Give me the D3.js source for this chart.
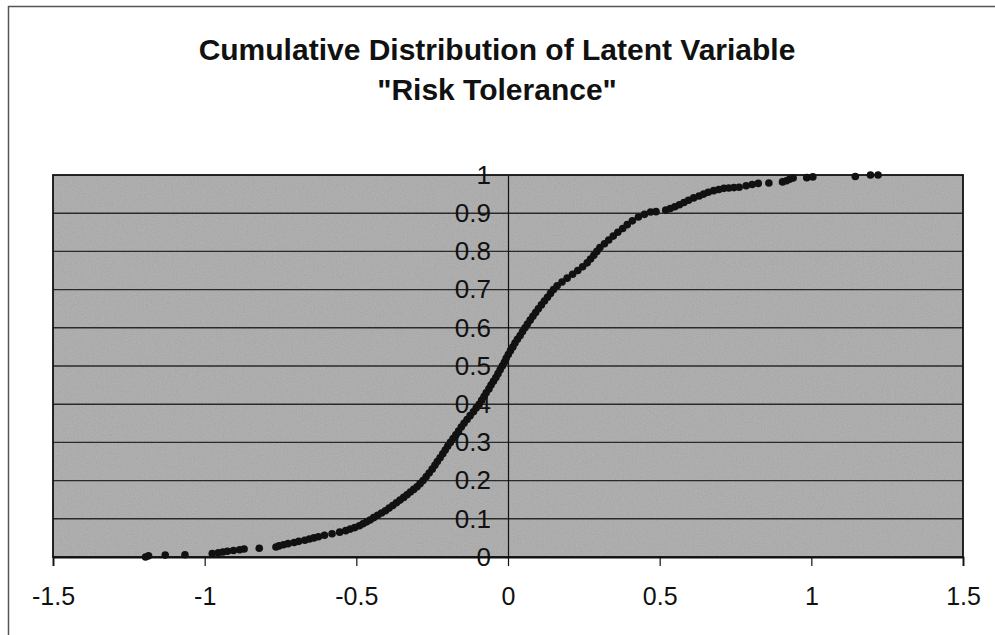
<!DOCTYPE html>
<html>
<head>
<meta charset="utf-8">
<script src="https://cdn.jsdelivr.net/npm/d3@7"></script>
<style>
  html, body { margin: 0; padding: 0; background: #fff; }
  svg { display: block; }
</style>
</head>
<body>
<svg id="chart" width="995" height="635"></svg>
<script>
// ---- Data ----
const titleLines = ["Cumulative Distribution of Latent Variable", "\"Risk Tolerance\""];
const xTicks = [-1.5, -1, -0.5, 0, 0.5, 1, 1.5];
const yTicks = [0, 0.1, 0.2, 0.3, 0.4, 0.5, 0.6, 0.7, 0.8, 0.9, 1];

const riskX = [
  -1.195,-1.185,-1.130,-1.065,-0.975,-0.955,-0.940,-0.925,-0.905,-0.885,-0.870,-0.820,
  -0.765,-0.755,-0.740,-0.725,-0.705,-0.690,-0.670,-0.655,-0.640,-0.625,-0.605,-0.580,
  -0.555,-0.535,-0.520,-0.505,-0.490,-0.478,-0.466,-0.455,-0.443,-0.430,-0.417,-0.404,
  -0.392,-0.380,-0.368,-0.356,-0.344,-0.333,-0.322,-0.311,-0.300,-0.290,-0.280,-0.270,
  -0.260,-0.250,-0.241,-0.233,-0.224,-0.215,-0.207,-0.199,-0.190,-0.181,-0.172,-0.163,
  -0.154,-0.145,-0.135,-0.125,-0.114,-0.105,-0.095,-0.087,-0.079,-0.072,-0.063,-0.056,
  -0.048,-0.040,-0.033,-0.026,-0.019,-0.012,-0.006,0.001,0.008,0.016,0.023,0.031,
  0.040,0.048,0.056,0.064,0.073,0.082,0.091,0.100,0.110,0.120,0.130,0.140,
  0.150,0.162,0.178,0.195,0.213,0.230,0.246,0.261,0.272,0.283,0.293,0.303,
  0.318,0.332,0.347,0.362,0.378,0.393,0.410,0.430,0.450,0.470,0.488,
  0.520,0.535,0.550,0.565,0.580,0.595,0.612,0.630,0.645,0.660,0.678,0.695,
  0.712,0.728,0.745,0.762,0.785,0.805,0.825,0.860,0.905,0.918,0.928,0.940,
  0.985,1.005,1.145,1.195,1.220
];
const riskCdf = [
  0.000,0.003,0.005,0.006,0.009,0.011,0.013,0.015,0.017,0.019,0.021,0.023,
  0.026,0.029,0.032,0.035,0.038,0.041,0.044,0.047,0.050,0.053,0.057,0.061,
  0.065,0.069,0.073,0.077,0.082,0.087,0.092,0.097,0.103,0.109,0.115,0.121,
  0.128,0.135,0.142,0.149,0.156,0.163,0.170,0.177,0.184,0.192,0.200,0.210,
  0.220,0.230,0.240,0.250,0.260,0.270,0.280,0.290,0.300,0.310,0.320,0.330,
  0.340,0.350,0.360,0.370,0.380,0.390,0.400,0.410,0.420,0.430,0.440,0.450,
  0.460,0.470,0.480,0.490,0.500,0.510,0.520,0.530,0.540,0.550,0.560,0.570,
  0.580,0.590,0.600,0.610,0.620,0.630,0.640,0.650,0.660,0.670,0.680,0.690,
  0.700,0.710,0.720,0.730,0.740,0.750,0.760,0.770,0.780,0.790,0.800,0.810,
  0.820,0.830,0.840,0.850,0.860,0.870,0.880,0.890,0.897,0.903,0.904,
  0.908,0.912,0.917,0.922,0.928,0.934,0.940,0.945,0.950,0.955,0.959,0.962,
  0.965,0.966,0.967,0.968,0.972,0.975,0.978,0.979,0.982,0.985,0.989,0.992,
  0.993,0.995,0.996,1.000,1.000
];

// ---- Layout ----
const svg = d3.select("#chart");
const plot = { left: 53, top: 175, right: 963, bottom: 557 };
const FONT = "'Liberation Sans', Arial, Helvetica, sans-serif";

const x = d3.scaleLinear().domain([-1.5, 1.5]).range([plot.left, plot.right]);
const y = d3.scaleLinear().domain([0, 1]).range([plot.bottom, plot.top]);

// outer chart border (left and top visible)
svg.append("path")
  .attr("d", `M8.5,635 L8.5,6.5 L995,6.5`)
  .attr("fill", "none").attr("stroke", "#555").attr("stroke-width", 1.5);

// grain filter for plot area
const defs = svg.append("defs");
const f = defs.append("filter").attr("id", "grain").attr("x", 0).attr("y", 0).attr("width", 1).attr("height", 1);
f.append("feTurbulence").attr("type", "fractalNoise").attr("baseFrequency", 0.9).attr("numOctaves", 2).attr("seed", 3).attr("result", "noise");
f.append("feColorMatrix").attr("in", "noise").attr("type", "matrix")
  .attr("values", "0.33 0.33 0.33 0 0  0.33 0.33 0.33 0 0  0.33 0.33 0.33 0 0  0 0 0 0 0.35").attr("result", "gray");
f.append("feComposite").attr("in", "gray").attr("in2", "SourceGraphic").attr("operator", "in").attr("result", "g2");
f.append("feBlend").attr("in", "g2").attr("in2", "SourceGraphic").attr("mode", "multiply");

svg.append("rect")
  .attr("x", plot.left).attr("y", plot.top)
  .attr("width", plot.right - plot.left).attr("height", plot.bottom - plot.top)
  .attr("fill", "#bcbcbc").attr("filter", "url(#grain)");

// horizontal gridlines
svg.append("g")
  .selectAll("line").data(yTicks.filter(d => d > 0 && d < 1)).join("line")
  .attr("x1", plot.left).attr("x2", plot.right)
  .attr("y1", d => y(d)).attr("y2", d => y(d))
  .attr("stroke", "#2a2a2a").attr("stroke-width", 1.4);

// plot border
svg.append("rect")
  .attr("x", plot.left).attr("y", plot.top)
  .attr("width", plot.right - plot.left).attr("height", plot.bottom - plot.top)
  .attr("fill", "none").attr("stroke", "#111").attr("stroke-width", 1.8);

// x axis (bottom)
const xAxis = d3.axisBottom(x).tickValues(xTicks).tickSize(9).tickPadding(21)
  .tickFormat(d => String(d));
const gx = svg.append("g").attr("transform", `translate(0,${plot.bottom})`).call(xAxis);
gx.select(".domain").attr("stroke", "#111").attr("stroke-width", 1.8);
gx.selectAll(".tick line").attr("stroke", "#111").attr("stroke-width", 1.2);
gx.selectAll(".tick text").attr("font-family", FONT).attr("font-size", 25).attr("fill", "#111");

// y axis at x = 0
const yAxis = d3.axisLeft(y).tickValues(yTicks).tickSize(0).tickPadding(17)
  .tickFormat(d => String(d));
const gy = svg.append("g").attr("transform", `translate(${x(0)},0)`).call(yAxis);
gy.select(".domain").attr("stroke", "#111").attr("stroke-width", 1.2);
gy.selectAll(".tick text").attr("font-family", FONT).attr("font-size", 26).attr("fill", "#111");

// data points
const pts = d3.zip(riskX, riskCdf);
svg.append("g")
  .selectAll("circle").data(pts).join("circle")
  .attr("cx", d => x(d[0])).attr("cy", d => y(d[1]))
  .attr("r", 3.8).attr("fill", "#111");

// title
const title = svg.append("text")
  .attr("text-anchor", "middle")
  .attr("font-family", FONT).attr("font-weight", "bold").attr("font-size", 30).attr("fill", "#111");
title.append("tspan").attr("x", 497).attr("y", 60).text(titleLines[0]);
title.append("tspan").attr("x", 497).attr("y", 100).text(titleLines[1]);
</script>
</body>
</html>
